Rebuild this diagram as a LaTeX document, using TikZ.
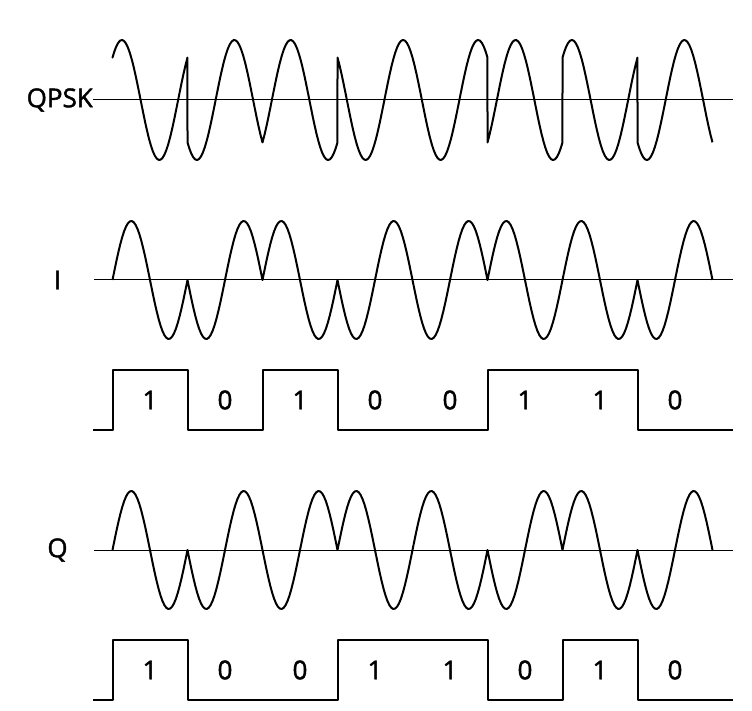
\documentclass[tikz,border=0pt]{standalone}
\usepackage{fontspec}
\setmainfont{Open Sans}[FakeBold=1.6,AutoFakeBold=1.6]
\begin{document}
\begin{tikzpicture}[x=1pt,y=-1pt,samples=40,line join=round,font=\fontsize{26}{30}\selectfont\bfseries,
    wave/.style={line width=2pt},zero/.style={line width=1pt}]
    \useasboundingbox (0,0) rectangle (752,711);
    \node[anchor=east,inner sep=0pt] (qpsk) at (93,100) {QPSK};
    \node (i) at (57.5,280) {I};
    \node (q) at (57.5,550) {Q};
    \draw[zero] (qpsk.east)--(733,100);
    \draw[zero] (94,280)--(733,280);
    \draw[zero] (94,550)--(733,550);
    \draw[wave] (112.5,57.57) \foreach \a/\b [count=\k from 0] in {1/1,-1/-1,1/-1,-1/1,-1/1,1/-1,1/1,-1/-1}
        { -- plot[domain=0:1] ({112.5+75*(\k+\x)},{100-60*((\a)*sin(360*\x)+(\b)*cos(360*\x))/sqrt(2)}) };
    \draw[wave] (112.5,280) \foreach \s [count=\k from 0] in {1,-1,1,-1,-1,1,1,-1}
        { -- plot[domain=0:1] ({112.5+75*(\k+\x)},{280-59*(\s)*sin(360*\x)}) };
    \draw[wave] (112.5,550) \foreach \s [count=\k from 0] in {1,-1,-1,1,1,-1,1,-1}
        { -- plot[domain=0:1] ({112.5+75*(\k+\x)},{550-59*(\s)*sin(360*\x)}) };
    \draw[wave] (93,430) -- (112.5,430) \foreach \b [count=\k from 0] in {1,0,1,0,0,1,1,0}
        { -- ({112.5+75*\k},{430-60*\b}) -- ({187.5+75*\k},{430-60*\b}) } -- (733,430);
    \draw[wave] (93,700) -- (112.5,700) \foreach \b [count=\k from 0] in {1,0,0,1,1,0,1,0}
        { -- ({112.5+75*\k},{700-60*\b}) -- ({187.5+75*\k},{700-60*\b}) } -- (733,700);
    \foreach \b [count=\k from 0] in {1,0,1,0,0,1,1,0}
        \node (ib\k) at ({150+75*\k},400) {\b};
    \foreach \b [count=\k from 0] in {1,0,0,1,1,0,1,0}
        \node (qb\k) at ({150+75*\k},670) {\b};
\end{tikzpicture}
\end{document}
